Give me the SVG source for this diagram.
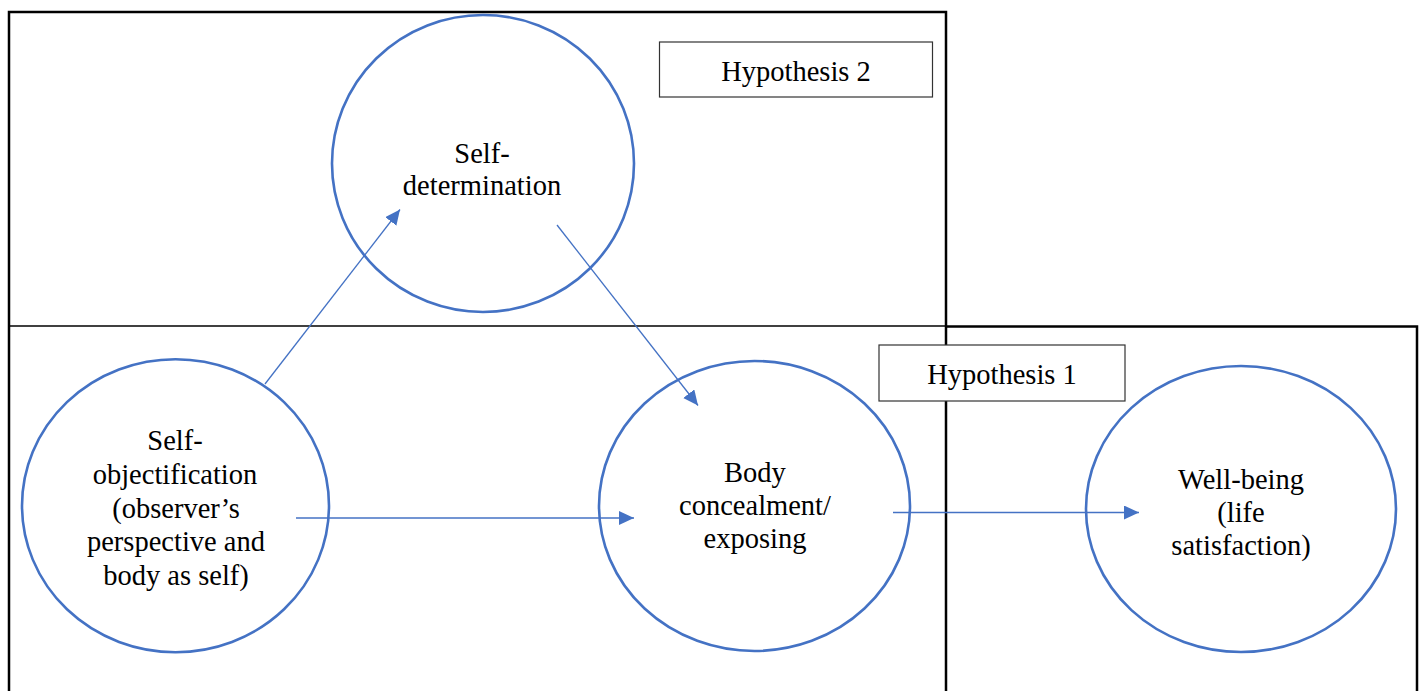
<svg xmlns="http://www.w3.org/2000/svg" width="1423" height="691" viewBox="0 0 1423 691">
<style>
.frame{fill:none;stroke:#000;stroke-width:2.5}
.thin{fill:none;stroke:#000;stroke-width:1.5}
.lbl{fill:#fff;stroke:#333;stroke-width:1.2}
.node{fill:none;stroke:#4472C4;stroke-width:2.6}
.conn{fill:none;stroke:#4472C4;stroke-width:1.3}
.t{font-family:'Liberation Serif','Times New Roman','DejaVu Serif',serif;font-size:28.5px;fill:#000;text-anchor:middle}
</style>
<defs>
<marker id="ah" markerUnits="userSpaceOnUse" markerWidth="16" markerHeight="16" refX="15" refY="7" orient="auto">
<path d="M0,0 L15,7 L0,14 z" fill="#4472C4"/>
</marker>
</defs>
<rect width="1423" height="691" fill="#fff"/>
<g id="frames">
<path class="frame" d="M9,691 V12 H946 V691"/>
<line class="thin" x1="9" y1="326" x2="946" y2="326"/>
<path class="frame" d="M946,326.5 H1417 V691"/>
</g>
<g id="hyp2">
<rect class="lbl" x="659.5" y="42" width="273" height="55"/>
<text class="t" x="796" y="81">Hypothesis 2</text>
</g>
<g id="hyp1">
<rect class="lbl" x="879" y="345" width="246" height="56"/>
<text class="t" x="1002" y="384">Hypothesis 1</text>
</g>
<g id="selfdet">
<ellipse class="node" cx="483" cy="163.5" rx="151" ry="148.5"/>
<text class="t" x="482" y="163">Self-</text>
<text class="t" x="482" y="195">determination</text>
</g>
<g id="selfobj">
<ellipse class="node" cx="175.5" cy="505.7" rx="153.5" ry="146.5"/>
<text class="t" x="175" y="450">Self-</text>
<text class="t" x="175" y="484">objectification</text>
<text class="t" x="176" y="517.5">(observer’s</text>
<text class="t" x="176" y="551">perspective and</text>
<text class="t" x="176" y="585">body as self)</text>
</g>
<g id="body">
<ellipse class="node" cx="754.5" cy="506" rx="155.5" ry="145"/>
<text class="t" x="755" y="482">Body</text>
<text class="t" x="755" y="515">concealment/</text>
<text class="t" x="755" y="548">exposing</text>
</g>
<g id="wellbeing">
<ellipse class="node" cx="1241" cy="509" rx="155" ry="143"/>
<text class="t" x="1241" y="489">Well-being</text>
<text class="t" x="1241" y="522">(life</text>
<text class="t" x="1241" y="555">satisfaction)</text>
</g>
<g id="connectors">
<line class="conn" x1="265" y1="384" x2="400" y2="209.5" marker-end="url(#ah)"/>
<line class="conn" x1="557" y1="225" x2="698" y2="405.5" marker-end="url(#ah)"/>
<line class="conn" x1="296" y1="518" x2="634" y2="518" marker-end="url(#ah)"/>
<line class="conn" x1="893" y1="512.5" x2="1139" y2="512.5" marker-end="url(#ah)"/>
</g>
</svg>
